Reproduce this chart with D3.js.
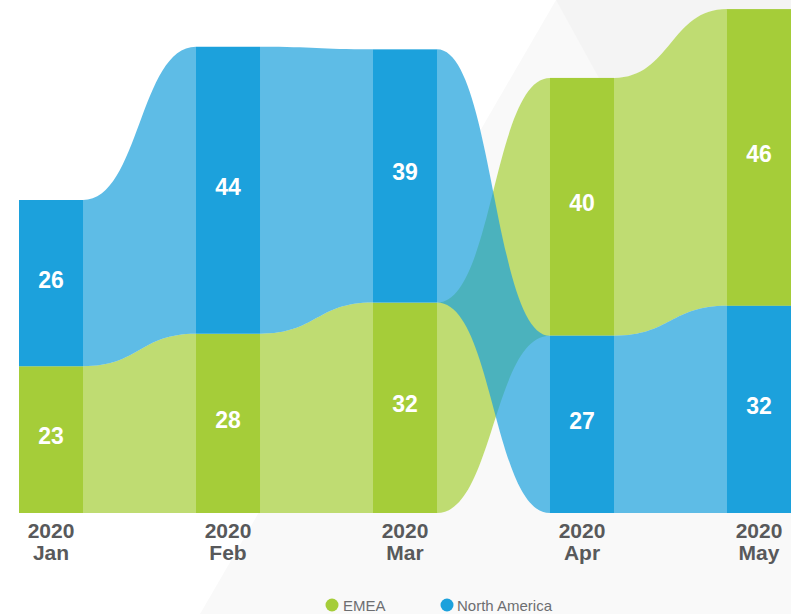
<!DOCTYPE html>
<html>
<head>
<meta charset="utf-8">
<script src="https://cdn.jsdelivr.net/npm/d3@7/dist/d3.min.js"></script>
<style>
  html, body { margin: 0; padding: 0; background: #ffffff; }
  svg { display: block; }
</style>
</head>
<body>
<svg id="chart" width="791" height="614"></svg>
<script>
// ---- data ----
const months = ["Jan", "Feb", "Mar", "Apr", "May"];
const years = ["2020", "2020", "2020", "2020", "2020"];
const seriesNames = ["EMEA", "North America"];
const emea = [22.6, 27.6, 32.4, 39.7, 45.7];
const northAmerica = [25.6, 44.2, 39.0, 27.3, 31.9];
const seriesColors = ["#a5cd39", "#1ca1dc"];

const W = 791, H = 614;
const svg = d3.select("#chart");

// background shapes
svg.append("rect").attr("width", W).attr("height", H).attr("fill", "#ffffff");
svg.append("polygon").attr("points", "556,0 200,614 791,614 791,0").attr("fill", "#f9f9f9");
svg.append("polygon").attr("points", "556,0 791,0 791,427").attr("fill", "#f4f4f4");

const x = d3.scaleBand().domain(months).range([19, 791]).paddingInner(0.6384).paddingOuter(0);
const y = d3.scaleLinear().domain([0, 79]).range([513, 0]);
const bw = x.bandwidth();

const values = [emea, northAmerica];

// stack per month: smaller value at bottom
const cols = months.map((m, i) => {
  const order = [0, 1].sort((a, b) => values[a][i] - values[b][i]);
  let acc = 0;
  const seg = {};
  order.forEach(s => {
    seg[s] = { y0: acc, y1: acc + values[s][i], v: values[s][i] };
    acc += values[s][i];
  });
  return seg;
});

function flowPath(s, i) {
  const a = cols[i][s], b = cols[i + 1][s];
  const x0 = x(months[i]) + bw, x1 = x(months[i + 1]);
  const xm = (x0 + x1) / 2;
  const t0 = y(a.y1), t1 = y(b.y1), b0 = y(a.y0), b1 = y(b.y0);
  const p = d3.path();
  p.moveTo(x0, t0);
  p.bezierCurveTo(xm, t0, xm, t1, x1, t1);
  p.lineTo(x1, b1);
  p.bezierCurveTo(xm, b1, xm, b0, x0, b0);
  p.closePath();
  return p.toString();
}

// opaque white backing so the flows look solid over the background
const gBack = svg.append("g");
const gFlows = svg.append("g");
[0, 1].forEach(s => {
  for (let i = 0; i < months.length - 1; i++) {
    gBack.append("path").attr("d", flowPath(s, i)).attr("fill", "#ffffff");
  }
});
[0, 1].forEach(s => {
  for (let i = 0; i < months.length - 1; i++) {
    gFlows.append("path").attr("d", flowPath(s, i))
      .attr("fill", seriesColors[s]).attr("fill-opacity", 0.71);
  }
});

const gBars = svg.append("g");
months.forEach((m, i) => {
  [0, 1].forEach(s => {
    const seg = cols[i][s];
    gBars.append("rect")
      .attr("x", x(m)).attr("width", bw)
      .attr("y", y(seg.y1)).attr("height", y(seg.y0) - y(seg.y1))
      .attr("fill", seriesColors[s]);
    gBars.append("text")
      .attr("x", x(m) + bw / 2)
      .attr("y", (y(seg.y0) + y(seg.y1)) / 2 + 4.5)
      .attr("text-anchor", "middle")
      .attr("font-family", "Liberation Sans, Arial, sans-serif")
      .attr("font-weight", "bold")
      .attr("font-size", 23)
      .attr("fill", "#ffffff")
      .text(d3.format(".0f")(seg.v));
  });
});

// axis labels
const gAxis = svg.append("g")
  .attr("font-family", "Liberation Sans, Arial, sans-serif")
  .attr("font-weight", "bold")
  .attr("font-size", 21)
  .attr("fill", "#58595b")
  .attr("text-anchor", "middle");
months.forEach((m, i) => {
  const cx = x(m) + bw / 2;
  gAxis.append("text").attr("x", cx).attr("y", 537.5).text(years[i]);
  gAxis.append("text").attr("x", cx).attr("y", 559.5).text(m);
});

// legend
const legend = [
  { name: seriesNames[0], color: seriesColors[0], cx: 332, tx: 343 },
  { name: seriesNames[1], color: seriesColors[1], cx: 447, tx: 457 }
];
const gLeg = svg.append("g");
legend.forEach(l => {
  gLeg.append("circle").attr("cx", l.cx).attr("cy", 605).attr("r", 6.5).attr("fill", l.color);
  gLeg.append("text").attr("x", l.tx).attr("y", 610.5)
    .attr("font-family", "Liberation Sans, Arial, sans-serif")
    .attr("font-size", 15).attr("fill", "#6d6e71").text(l.name);
});
</script>
</body>
</html>
